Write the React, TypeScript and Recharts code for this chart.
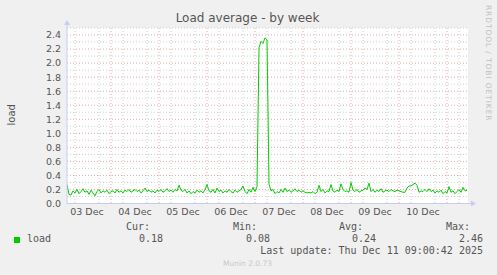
import React from "react";
import { CartesianGrid, Line, LineChart, XAxis, YAxis } from "recharts";

// hourly load samples, starting Dec 3 02:00 (hour 2 of the axis)
const startHour = 2;
const endHour = 202.5;
const loadValues = [
  0.27, 0.13, 0.12, 0.18, 0.15, 0.2, 0.14, 0.17, 0.21, 0.16,
  0.18, 0.13, 0.19, 0.15, 0.11, 0.17, 0.2, 0.15, 0.18, 0.16,
  0.19, 0.14, 0.17, 0.18, 0.15, 0.2, 0.16, 0.18, 0.15, 0.19,
  0.17, 0.2, 0.16, 0.18, 0.2, 0.17, 0.19, 0.15, 0.18, 0.22,
  0.17, 0.19, 0.16, 0.18, 0.15, 0.19, 0.17, 0.2, 0.16, 0.18,
  0.21, 0.17, 0.19, 0.16, 0.2, 0.18, 0.26, 0.19, 0.17, 0.2,
  0.15, 0.18, 0.14, 0.17, 0.15, 0.19, 0.16, 0.18, 0.15, 0.2,
  0.27, 0.18, 0.16, 0.2, 0.15, 0.22, 0.17, 0.19, 0.15, 0.18,
  0.16, 0.2, 0.17, 0.15, 0.19, 0.16, 0.18, 0.2, 0.25, 0.17,
  0.14, 0.2, 0.16, 0.23, 0.17, 0.24, 2.22, 2.31, 2.28, 2.36,
  2.33, 0.28, 0.18, 0.2, 0.14, 0.17, 0.15, 0.2, 0.16, 0.22,
  0.17, 0.19, 0.16, 0.18, 0.21, 0.17, 0.19, 0.16, 0.18, 0.16,
  0.15, 0.16, 0.15, 0.17, 0.14, 0.16, 0.26, 0.17, 0.2, 0.15,
  0.18, 0.17, 0.27, 0.18, 0.16, 0.19, 0.17, 0.28, 0.2, 0.17,
  0.18, 0.16, 0.3, 0.19, 0.17, 0.2, 0.16, 0.18, 0.19, 0.22,
  0.2, 0.29, 0.17, 0.2, 0.16, 0.19, 0.17, 0.21, 0.16, 0.18,
  0.19, 0.17, 0.2, 0.18, 0.17, 0.19, 0.18, 0.17, 0.16, 0.16,
  0.22, 0.25, 0.25, 0.27, 0.29, 0.26, 0.16, 0.18, 0.17, 0.2,
  0.17, 0.21, 0.17, 0.19, 0.15, 0.18, 0.16, 0.19, 0.14, 0.17,
  0.15, 0.24, 0.16, 0.18, 0.14, 0.17, 0.2, 0.16, 0.23, 0.18,
  0.19,
];

const dayLabels = ["03 Dec", "04 Dec", "05 Dec", "06 Dec", "07 Dec", "08 Dec", "09 Dec", "10 Dec"];
const dayLabelHours = [12, 36, 60, 84, 108, 132, 156, 180];
const midnightHours = [24, 48, 72, 96, 120, 144, 168, 192];
const sixHourLines = [
  6, 12, 18, 30, 36, 42, 54, 60, 66, 78, 84, 90, 102, 108, 114,
  126, 132, 138, 150, 156, 162, 174, 180, 186, 198,
];
const yTicks = [0, 0.2, 0.4, 0.6, 0.8, 1.0, 1.2, 1.4, 1.6, 1.8, 2.0, 2.2, 2.4];
const yMajor = [0.2, 0.4, 0.6, 0.8, 1.0, 1.2, 1.4, 1.6, 1.8, 2.0, 2.2, 2.4];
const yMinor = [0.1, 0.3, 0.5, 0.7, 0.9, 1.1, 1.3, 1.5, 1.7, 1.9, 2.1, 2.3, 2.5];

const legendHeaders = ["Cur:", "Min:", "Avg:", "Max:"];
const legendValues = ["0.18", "0.08", "0.24", "2.46"];
const lastUpdate = "Last update: Thu Dec 11 09:00:42 2025";

const W = 497;
const H = 275;
const AXIS = "#c8ccf4";
const TEXT = "#555";
const MONO = "'DejaVu Sans Mono', monospace";

const data = loadValues.map((v, i) => ({ h: startHour + i, load: v }));

function XArrow(props: any) {
  const vb = props.viewBox;
  if (!vb) return null;
  const x = vb.x + vb.width;
  const y = vb.y;
  return (
    <g>
      <line x1={x} y1={y} x2={x + 3} y2={y} stroke={AXIS} />
      <polygon points={`${x + 3},${y - 3} ${x + 8},${y} ${x + 3},${y + 3}`} fill={AXIS} />
    </g>
  );
}

function YArrow(props: any) {
  const vb = props.viewBox;
  if (!vb) return null;
  const x = vb.x + vb.width;
  const y = vb.y;
  const cy = vb.y + vb.height / 2 - 1;
  return (
    <g>
      <line x1={x} y1={y} x2={x} y2={y - 3} stroke={AXIS} />
      <polygon points={`${x - 3},${y - 3} ${x},${y - 8} ${x + 3},${y - 3}`} fill={AXIS} />
      <text
        x={11} y={cy}
        transform={`rotate(-90 11 ${cy})`}
        textAnchor="middle" dominantBaseline="central"
        fontSize={10} fill={TEXT}
      >
        load
      </text>
    </g>
  );
}

export default function App() {
  const colRight = [163, 270, 376, 483];

  return (
    <div
      style={{
        position: "relative", width: W, height: H, background: "#f0f0f0",
        fontFamily: "'DejaVu Sans', sans-serif", overflow: "hidden",
      }}
    >
      <style>{"body{margin:0}"}</style>
      <div
        style={{
          position: "absolute", left: 0, width: W - 2, top: 11, textAlign: "center",
          fontSize: 12, color: TEXT, lineHeight: "15px",
        }}
      >
        Load average - by week
      </div>
      <div
        style={{
          position: "absolute", left: 484, top: 5, writingMode: "vertical-rl",
          fontSize: 7.5, letterSpacing: 0.9, color: "#c0c0c0", lineHeight: "9px",
          whiteSpace: "nowrap",
        }}
      >
        RRDTOOL / TOBI OETIKER
      </div>

      <LineChart
        width={W} height={H} data={data}
        margin={{ top: 28, right: 29, left: 27, bottom: 51.5 }}
        style={{ position: "absolute", left: 0, top: 0 }}
      >
        <CartesianGrid
          fill="#fff" stroke="#cfcfcf" strokeDasharray="1 2"
          horizontalValues={yMinor} verticalValues={sixHourLines}
        />
        <CartesianGrid
          fill="none" stroke="#e4a8a8" strokeDasharray="1 2"
          horizontalValues={yMajor} verticalValues={midnightHours}
        />
        <XAxis
          dataKey="h" type="number" domain={[startHour, endHour]} allowDataOverflow
          ticks={dayLabelHours} height={20}
          tickFormatter={(v: number) => dayLabels[dayLabelHours.indexOf(v)] ?? ""}
          tick={{ fontSize: 9.5, fill: TEXT }}
          tickLine={false} tickSize={0} tickMargin={5}
          axisLine={{ stroke: AXIS }}
          label={<XArrow />}
        />
        <YAxis
          type="number" domain={[0, 2.5]} ticks={yTicks} width={40}
          allowDataOverflow interval={0}
          tickFormatter={(v: number) => v.toFixed(1)}
          tick={{ fontSize: 9.5, fill: TEXT }}
          tickLine={false} tickSize={0} tickMargin={6}
          axisLine={{ stroke: AXIS }}
          label={<YArrow />}
        />
        <Line
          type="linear" dataKey="load" stroke="#00cc00" strokeWidth={1}
          dot={false} isAnimationActive={false}
        />
      </LineChart>

      {/* legend block */}
      <div
        style={{
          position: "absolute", left: 14, top: 237, width: 6, height: 6, background: "#00cc00",
        }}
      />
      <div style={{ position: "absolute", left: 27, top: 233, fontFamily: MONO, fontSize: 10, color: TEXT }}>
        load
      </div>
      {legendHeaders.map((h, i) => (
        <div
          key={h}
          style={{
            position: "absolute", right: W - colRight[i] + 13, top: 221,
            fontFamily: MONO, fontSize: 10, color: TEXT,
          }}
        >
          {h}
        </div>
      ))}
      {legendValues.map((v, i) => (
        <div
          key={i}
          style={{
            position: "absolute", right: W - colRight[i], top: 233,
            fontFamily: MONO, fontSize: 10, color: TEXT,
          }}
        >
          {v}
        </div>
      ))}
      <div
        style={{
          position: "absolute", right: W - 483, top: 245,
          fontFamily: MONO, fontSize: 10, color: TEXT, whiteSpace: "pre",
        }}
      >
        {lastUpdate}
      </div>
      <div
        style={{
          position: "absolute", left: 0, width: W - 2, top: 259, textAlign: "center",
          fontSize: 7.5, color: "#c8c8c8",
        }}
      >
        Munin 2.0.73
      </div>
    </div>
  );
}
